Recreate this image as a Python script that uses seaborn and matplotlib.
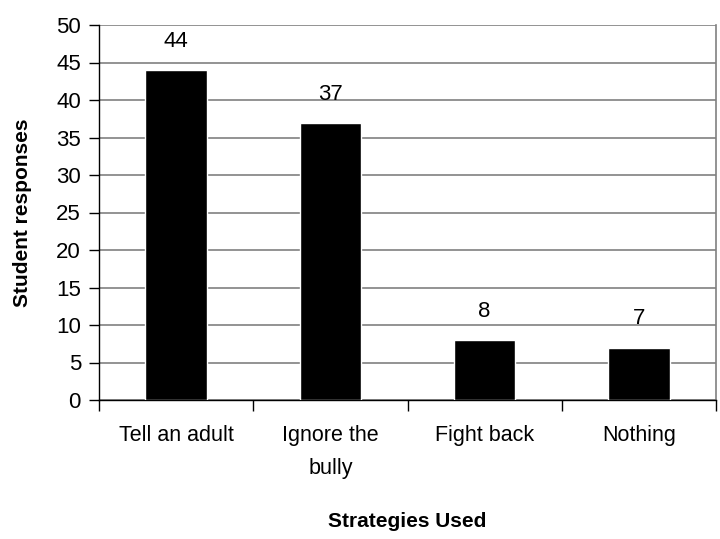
import matplotlib
matplotlib.use("Agg")
import matplotlib.pyplot as plt
import seaborn as sns
import pandas as pd

# Strategies used by students against bullying
strategies = ["Tell an adult", "Ignore the\nbully", "Fight back", "Nothing"]
responses = [44, 37, 8, 7]

df = pd.DataFrame({"strategy": strategies, "responses": responses})

sns.set_style("white")
plt.rcParams["font.family"] = ["Liberation Sans", "DejaVu Sans"]
plt.rcParams["text.color"] = "black"
plt.rcParams["axes.labelcolor"] = "black"
plt.rcParams["xtick.color"] = "black"
plt.rcParams["ytick.color"] = "black"

fig = plt.figure(figsize=(7.2, 5.39), dpi=100)
ax = fig.add_axes([99 / 720, 1 - 400 / 539, (716 - 99) / 720, (400 - 25) / 539])

sns.barplot(data=df, x="strategy", y="responses", color="black",
            width=0.4, saturation=1, ax=ax, zorder=3)

ax.set_ylim(0, 50)
ax.set_xlim(-0.5, len(strategies) - 0.5)
ax.set_yticks(range(0, 51, 5))
ax.yaxis.grid(True, color="#808080", linewidth=1.2, zorder=0)
ax.set_axisbelow(True)

# value labels above bars
for i, v in enumerate(responses):
    ax.text(i, v + 2.4, str(v), ha="center", va="bottom", fontsize=16)

ax.spines["top"].set_visible(False)
ax.spines["right"].set_color("#808080")
ax.spines["right"].set_linewidth(1.2)
for s in ["left", "bottom"]:
    ax.spines[s].set_color("black")
    ax.spines[s].set_linewidth(1.0)

# tick marks between categories, labels at centres
ax.set_xticks([i + 0.5 for i in range(-1, len(strategies))], minor=False)
ax.set_xticklabels([])
ax.set_xticks(range(len(strategies)), minor=True)
ax.set_xticklabels(strategies, minor=True, fontsize=15.5, linespacing=1.75, va="top")
ax.tick_params(axis="x", which="major", direction="out", length=8, width=1, color="black", bottom=True)
ax.tick_params(axis="x", which="minor", length=0, pad=18)
ax.tick_params(axis="y", direction="out", length=7, width=1, color="black", left=True, labelsize=16, pad=6)

ax.set_xlabel("Strategies Used", fontsize=15, fontweight="bold", labelpad=24)
ax.set_ylabel("Student responses", fontsize=15, fontweight="bold", labelpad=17)

fig.savefig("out.png", dpi=100)
